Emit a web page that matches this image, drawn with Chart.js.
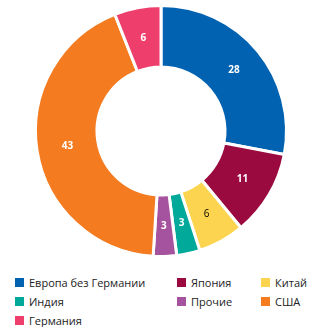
<!DOCTYPE html>
<html>
<head>
<meta charset="utf-8">
<script src="https://cdn.jsdelivr.net/npm/chart.js@4.4.1/dist/chart.umd.min.js"></script>
<style>
  body { margin: 0; background: #fff; font-family: "Open Sans", sans-serif; }
  #wrap { position: relative; width: 331px; height: 262px; }
  #legend { display: grid; grid-template-columns: 162px 84px 80px; row-gap: 5px;
    padding-left: 15px; margin-top: 13px; font-size: 11px; color: #222; }
  #legend div { display: flex; align-items: center; height: 14px; }
  #legend span { display: inline-block; width: 9px; height: 9px; margin-right: 5px; }
</style>
</head>
<body>
<div id="wrap"><canvas id="donut"></canvas></div>
<div id="legend"></div>
<script>
const labels = ["Европа без Германии", "Япония", "Китай", "Индия", "Прочие", "США", "Германия"];
const values = [28, 11, 6, 3, 3, 43, 6];
const colors = ["#0062b0", "#9b0a3f", "#fdd44f", "#00a99a", "#a6539f", "#f47b20", "#ee3f6c"];
const labelColors = ["#fff", "#fff", "#000", "#fff", "#fff", "#fff", "#fff"];

// values inside slices
const sliceLabels = {
  id: 'sliceLabels',
  afterDatasetsDraw(chart) {
    const c = chart.ctx;
    chart.getDatasetMeta(0).data.forEach((arc, i) => {
      const p = arc.tooltipPosition();
      c.save();
      c.font = (labelColors[i] === '#000' ? '' : 'bold ') + '10px "Open Sans", sans-serif';
      c.fillStyle = labelColors[i];
      c.textAlign = 'center';
      c.textBaseline = 'middle';
      c.fillText(values[i], p.x, p.y);
      c.restore();
    });
  }
};

new Chart(document.getElementById('donut'), {
  type: 'doughnut',
  data: {
    labels: labels,
    datasets: [{
      data: values,
      backgroundColor: colors,
      borderColor: '#fff',
      borderWidth: 3
    }]
  },
  options: {
    responsive: true,
    maintainAspectRatio: false,
    animation: false,
    cutout: '51%',
    layout: { padding: { top: 4, bottom: 4, left: 0, right: 9 } },
    plugins: {
      legend: { display: false },
      tooltip: { enabled: false }
    }
  },
  plugins: [sliceLabels]
});

const legend = document.getElementById('legend');
labels.forEach((name, i) => {
  const item = document.createElement('div');
  item.innerHTML = '<span style="background:' + colors[i] + '"></span>' + name;
  legend.appendChild(item);
});
</script>
</body>
</html>
